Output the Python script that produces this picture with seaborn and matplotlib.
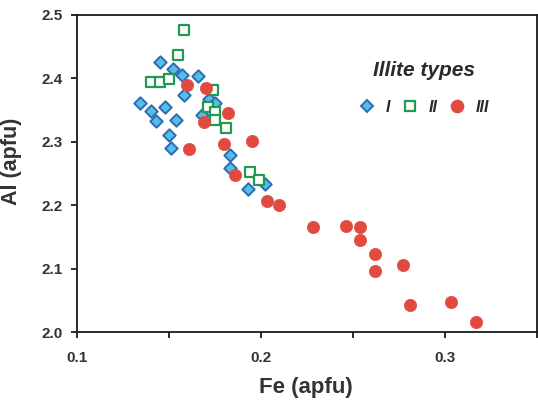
import matplotlib
matplotlib.use("Agg")
import matplotlib.pyplot as plt
from matplotlib.lines import Line2D
import pandas as pd
import seaborn as sns

# Illite type I
fe_type1 = [0.145, 0.152, 0.157, 0.166, 0.158, 0.134, 0.148, 0.140, 0.143, 0.154,
            0.172, 0.175, 0.168, 0.150, 0.151, 0.183, 0.183, 0.193, 0.202]
al_type1 = [2.426, 2.415, 2.405, 2.403, 2.374, 2.361, 2.355, 2.348, 2.333, 2.335,
            2.367, 2.361, 2.342, 2.311, 2.290, 2.279, 2.258, 2.225, 2.234]

# Illite type II
fe_type2 = [0.158, 0.155, 0.140, 0.145, 0.150, 0.174, 0.171, 0.175, 0.175, 0.181,
            0.194, 0.199]
al_type2 = [2.476, 2.437, 2.395, 2.395, 2.399, 2.382, 2.355, 2.347, 2.334, 2.321,
            2.252, 2.239]

# Illite type III
fe_type3 = [0.160, 0.170, 0.182, 0.169, 0.195, 0.180, 0.161, 0.186, 0.203, 0.210,
            0.228, 0.246, 0.254, 0.254, 0.262, 0.262, 0.277, 0.281, 0.303, 0.317]
al_type3 = [2.389, 2.385, 2.346, 2.331, 2.302, 2.297, 2.288, 2.247, 2.207, 2.200,
            2.165, 2.167, 2.165, 2.145, 2.123, 2.096, 2.106, 2.042, 2.047, 2.015]

type_labels = ["I", "II", "III"]
x_ticks = [0.1, 0.15, 0.2, 0.25, 0.3, 0.35]
x_tick_labels = ["0.1", "", "0.2", "", "0.3", ""]
y_ticks = [2.0, 2.1, 2.2, 2.3, 2.4, 2.5]

df = pd.concat([
    pd.DataFrame({"Fe": fe_type1, "Al": al_type1, "type": "I"}),
    pd.DataFrame({"Fe": fe_type2, "Al": al_type2, "type": "II"}),
    pd.DataFrame({"Fe": fe_type3, "Al": al_type3, "type": "III"}),
])

sns.set_style("ticks")
plt.rcParams["font.family"] = ["Liberation Sans", "DejaVu Sans"]

blue_fill, blue_edge = "#55bde6", "#2b6cb3"
green_edge = "#1f9a50"
red_fill = "#e2493f"
text_dark = "#2a2a2a"

fig = plt.figure(figsize=(5.38, 4.0), dpi=100)
ax = fig.add_axes([77 / 538, 1 - 332 / 400, 460 / 538, 317 / 400])

styles = {
    "I": dict(marker="D", s=40, color=blue_fill, edgecolor=blue_edge, linewidth=1.4),
    "II": dict(marker="s", s=52, color="white", edgecolor=green_edge, linewidth=1.6),
    "III": dict(marker="o", s=78, color=red_fill, edgecolor=red_fill, linewidth=0.5),
}
for t in type_labels:
    sub = df[df["type"] == t]
    sns.scatterplot(data=sub, x="Fe", y="Al", ax=ax, legend=False, zorder=3, **styles[t])

ax.set_xlim(0.1, 0.35)
ax.set_ylim(2.0, 2.5)
ax.set_xticks(x_ticks)
ax.set_xticklabels(x_tick_labels)
ax.set_yticks(y_ticks)
ax.set_yticklabels([f"{v:.1f}" for v in y_ticks])

for side in ["left", "bottom", "right", "top"]:
    ax.spines[side].set_visible(True)
    ax.spines[side].set_linewidth(1.3)
    ax.spines[side].set_color("#1a1a1a")

ax.tick_params(axis="y", direction="out", length=4, width=1.3, pad=6,
               labelsize=11, labelcolor="#333333", color="#1a1a1a")
ax.tick_params(axis="x", direction="out", length=4, width=1.3, pad=10,
               labelsize=11, labelcolor="#333333", color="#1a1a1a")
for lbl in ax.get_xticklabels() + ax.get_yticklabels():
    lbl.set_fontweight("bold")

ax.set_xlabel("Fe (apfu)", fontsize=16, fontweight="bold", color="#333333")
ax.set_ylabel("Al (apfu)", fontsize=15.5, fontweight="bold", color="#333333")
ax.xaxis.set_label_coords(0.498, -0.142)
ax.yaxis.set_label_coords(-0.12, 0.54)

handles = [
    Line2D([], [], linestyle="none", marker="D", markersize=6.3,
           markerfacecolor=blue_fill, markeredgecolor=blue_edge, markeredgewidth=1.4),
    Line2D([], [], linestyle="none", marker="s", markersize=7.2,
           markerfacecolor="white", markeredgecolor=green_edge, markeredgewidth=1.6),
    Line2D([], [], linestyle="none", marker="o", markersize=8.8,
           markerfacecolor=red_fill, markeredgecolor=red_fill),
]
leg = ax.legend(handles, type_labels, ncol=3, title="Illite types", frameon=False,
                loc="center", bbox_to_anchor=(0.755, 0.77), handletextpad=0.65,
                columnspacing=0.75, handlelength=1.0, labelspacing=1.25,
                prop={"weight": "bold", "style": "italic", "size": 11.5})
leg.get_title().set_fontweight("bold")
leg.get_title().set_fontstyle("italic")
leg.get_title().set_fontsize(15)
leg.get_title().set_color(text_dark)
for txt in leg.get_texts():
    txt.set_color(text_dark)

fig.savefig("out.png", dpi=100)
